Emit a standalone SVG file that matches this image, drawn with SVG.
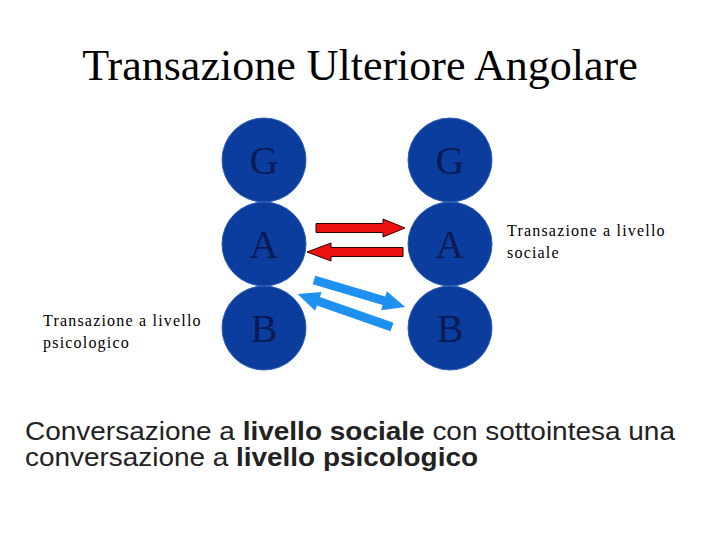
<svg xmlns="http://www.w3.org/2000/svg" width="720" height="540" viewBox="0 0 720 540">
<style>
.c{fill:#0b3d9e;stroke:#2a5bb8;stroke-width:1}
.l{font-family:"Liberation Serif",serif;font-size:40px;fill:#0a1a55;text-anchor:middle}
.s{font-family:"Liberation Serif",serif;font-size:16px;letter-spacing:1.2px;fill:#000}
.r{fill:#ee1111;stroke:#300;stroke-width:1}
.b{fill:#1e90f0}
</style>
<rect width="720" height="540" fill="#fff"/>
<text x="360" y="80" font-family="Liberation Serif,serif" font-size="44" text-anchor="middle">Transazione Ulteriore Angolare</text>
<g id="G1"><circle class="c" cx="264" cy="160" r="42"/><text class="l" x="264" y="174">G</text></g>
<g id="G2"><circle class="c" cx="450" cy="160" r="42"/><text class="l" x="450" y="174">G</text></g>
<g id="A1"><circle class="c" cx="264" cy="244" r="42"/><text class="l" x="264" y="258">A</text></g>
<g id="A2"><circle class="c" cx="450" cy="244" r="42"/><text class="l" x="450" y="258">A</text></g>
<g id="B1"><circle class="c" cx="264" cy="328" r="42"/><text class="l" x="264" y="342">B</text></g>
<g id="B2"><circle class="c" cx="450" cy="328" r="42"/><text class="l" x="450" y="342">B</text></g>
<g id="connectors">
<polygon class="r" transform="translate(316,228)" points="0,-4.5 67,-4.5 67,-9 89,0 67,9 67,4.5 0,4.5"/>
<polygon class="r" transform="translate(403,252) rotate(180)" points="0,-4.5 72,-4.5 72,-9 96,0 72,9 72,4.5 0,4.5"/>
<polygon class="b" transform="translate(314,280) rotate(16.5)" points="0,-4.5 73,-4.5 73,-10 95,0 73,10 73,4.5 0,4.5"/>
<polygon class="b" transform="translate(392,327) rotate(199.2)" points="0,-4.5 78,-4.5 78,-10 100,0 78,10 78,4.5 0,4.5"/>
</g>
<text class="s" x="507" y="236">Transazione a livello</text>
<text class="s" x="507" y="258">sociale</text>
<text class="s" x="43" y="326">Transazione a livello</text>
<text class="s" x="43" y="348">psicologico</text>
<g font-family="Liberation Sans,sans-serif" font-size="26" fill="#222">
<text x="25" y="440" textLength="650" lengthAdjust="spacingAndGlyphs">Conversazione a <tspan font-weight="bold">livello sociale</tspan> con sottointesa una</text>
<text x="25" y="466" textLength="453" lengthAdjust="spacingAndGlyphs">conversazione a <tspan font-weight="bold">livello psicologico</tspan></text>
</g>
</svg>
